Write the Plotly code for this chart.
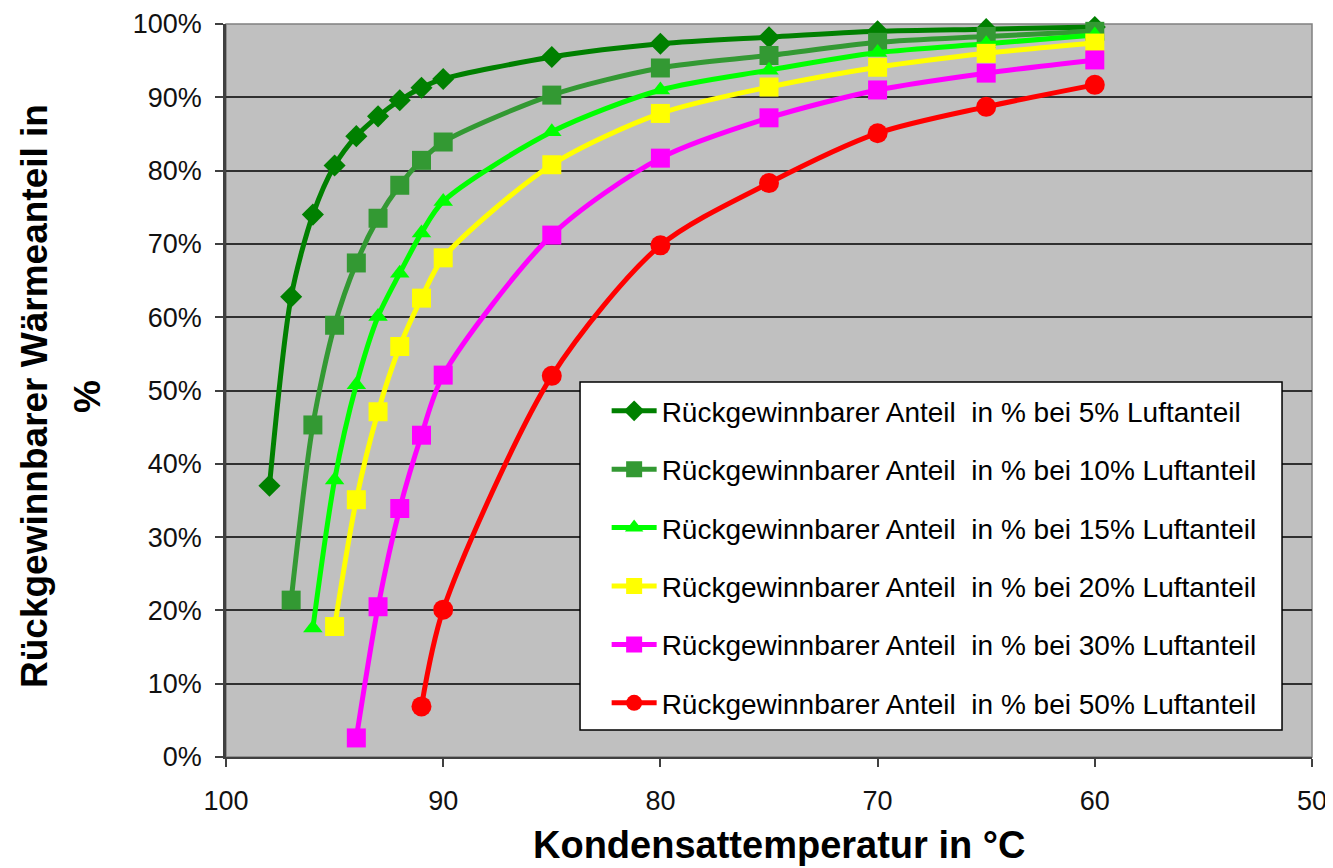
import plotly.graph_objects as go

# Kondensattemperatur (°C)
temp_5 = [98, 97, 96, 95, 94, 93, 92, 91, 90, 85, 80, 75, 70, 65, 60]
temp_10 = [97, 96, 95, 94, 93, 92, 91, 90, 85, 80, 75, 70, 65, 60]
temp_15 = [96, 95, 94, 93, 92, 91, 90, 85, 80, 75, 70, 65, 60]
temp_20 = [95, 94, 93, 92, 91, 90, 85, 80, 75, 70, 65, 60]
temp_30 = [94, 93, 92, 91, 90, 85, 80, 75, 70, 65, 60]
temp_50 = [91, 90, 85, 80, 75, 70, 65, 60]

# Rückgewinnbarer Anteil in %
anteil_5 = [37.0, 62.8, 74.0, 80.7, 84.7, 87.4, 89.6, 91.3, 92.5, 95.5, 97.3, 98.2, 99.0, 99.3, 99.6]
anteil_10 = [21.4, 45.3, 58.9, 67.4, 73.5, 78.0, 81.4, 83.9, 90.3, 94.0, 95.7, 97.5, 98.3, 99.0]
anteil_15 = [17.6, 37.8, 50.8, 60.1, 66.0, 71.5, 75.8, 85.3, 91.0, 93.7, 96.1, 97.3, 98.5]
anteil_20 = [17.8, 35.1, 47.1, 56.0, 62.6, 68.1, 80.8, 87.8, 91.4, 94.1, 96.0, 97.4]
anteil_30 = [2.6, 20.5, 33.9, 43.9, 52.1, 71.2, 81.7, 87.2, 91.0, 93.3, 95.1]
anteil_50 = [6.9, 20.1, 52.0, 69.8, 78.3, 85.1, 88.7, 91.7]

series_names = [
    "Rückgewinnbarer Anteil  in % bei 5% Luftanteil",
    "Rückgewinnbarer Anteil  in % bei 10% Luftanteil",
    "Rückgewinnbarer Anteil  in % bei 15% Luftanteil",
    "Rückgewinnbarer Anteil  in % bei 20% Luftanteil",
    "Rückgewinnbarer Anteil  in % bei 30% Luftanteil",
    "Rückgewinnbarer Anteil  in % bei 50% Luftanteil",
]
x_series = [temp_5, temp_10, temp_15, temp_20, temp_30, temp_50]
y_series = [anteil_5, anteil_10, anteil_15, anteil_20, anteil_30, anteil_50]
colors = ["#008000", "#339933", "#00FF00", "#FFFF00", "#FF00FF", "#FF0000"]
symbols = ["diamond", "square", "triangle-up", "square", "square", "circle"]
msizes = [17, 19, 17, 19, 19, 20]

x_ticks = [100, 90, 80, 70, 60, 50]
x_ticktext = ["100", "90", "80", "70", "60", "50"]
y_ticks = [0, 10, 20, 30, 40, 50, 60, 70, 80, 90, 100]
y_ticktext = ["0%", "10%", "20%", "30%", "40%", "50%", "60%", "70%", "80%", "90%", "100%"]

x_title = "Kondensattemperatur in °C"
y_title_1 = "Rückgewinnbarer Wärmeanteil in"
y_title_2 = "%"

fig = go.Figure()
for i in range(6):
    fig.add_trace(go.Scatter(
        x=x_series[i], y=y_series[i], name=series_names[i],
        mode="lines+markers",
        line=dict(color=colors[i], width=5, shape="spline", smoothing=0.8),
        marker=dict(color=colors[i], symbol=symbols[i], size=msizes[i], line=dict(width=0)),
        cliponaxis=False, legendgroup="g%d" % i,
    ))

# the page body adds an 8px offset; the figure is sized so the plot area lands where the reference has it
fig.update_layout(
    width=1325, height=860,
    margin=dict(l=218, r=21, t=16, b=111),
    paper_bgcolor="white", plot_bgcolor="#C0C0C0",
    font=dict(family="Liberation Sans, Arial, sans-serif", color="#000000"),
    showlegend=True,
    legend=dict(
        x=0.3505, y=0.506, xanchor="left", yanchor="top",
        bgcolor="rgba(0,0,0,0)", borderwidth=0,
        font=dict(size=28, family="Liberation Sans, Arial, sans-serif", color="#000000"),
        tracegroupgap=19, itemwidth=45,
    ),
    xaxis=dict(
        range=[100, 50], tickmode="array", tickvals=x_ticks, ticktext=x_ticktext,
        showgrid=False, zeroline=False, automargin=False,
        showline=True, linecolor="#404040", linewidth=2,
        ticks="outside", ticklen=8, tickcolor="#404040", tickwidth=1.5,
        tickfont=dict(size=27, color="#111111"), ticklabelstandoff=11,
    ),
    yaxis=dict(
        range=[0, 100], tickmode="array", tickvals=y_ticks, ticktext=y_ticktext,
        showgrid=True, gridcolor="#303030", gridwidth=1.5, zeroline=False, automargin=False,
        showline=True, linecolor="#404040", linewidth=2.5,
        ticks="outside", ticklen=8, tickcolor="#404040", tickwidth=1.5,
        tickfont=dict(size=27, color="#111111"), ticklabelstandoff=8,
    ),
    shapes=[
        dict(type="rect", xref="paper", yref="paper", x0=0, x1=1, y0=0, y1=1,
             line=dict(color="#808080", width=1.5), layer="below"),
        dict(type="rect", xref="paper", yref="paper", x0=0.326, x1=0.9724, y0=0.0368, y1=0.5116,
             line=dict(color="#000000", width=1.5), fillcolor="white", layer="above"),
    ],
    annotations=[
        dict(text="<b>%s</b>" % x_title, xref="paper", yref="paper", x=0.5092, y=-0.12,
             xanchor="center", yanchor="middle", showarrow=False,
             font=dict(size=38, color="#000000")),
        dict(text="<b>%s</b>" % y_title_1, xref="paper", yref="paper", x=-0.1759, y=0.4925,
             xanchor="center", yanchor="middle", showarrow=False, textangle=-90,
             font=dict(size=37, color="#000000")),
        dict(text="<b>%s</b>" % y_title_2, xref="paper", yref="paper", x=-0.1271, y=0.4925,
             xanchor="center", yanchor="middle", showarrow=False, textangle=-90,
             font=dict(size=37, color="#000000")),
    ],
)

fig.write_html("out.html")
